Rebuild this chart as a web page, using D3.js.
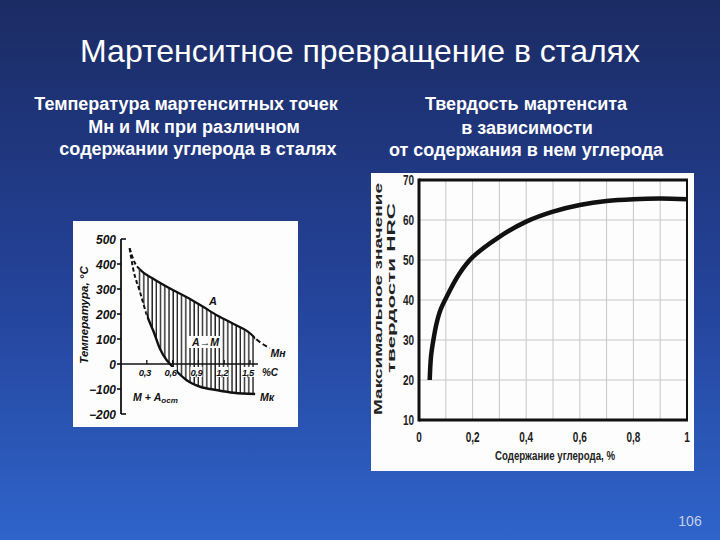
<!DOCTYPE html>
<html><head><meta charset="utf-8">
<script src="https://cdn.jsdelivr.net/npm/d3@7"></script>
<style>html,body{margin:0;padding:0;overflow:hidden;background:#1c2c66}</style>
</head><body>
<script>
// ---------- DATA ----------
const titleText = "Мартенситное превращение в сталях";
const leftSubtitle = ["Температура мартенситных точек", "Мн и Мк при различном", "содержании углерода в сталях"];
const rightSubtitle = ["Твердость мартенсита", "в зависимости", "от содержания в нем углерода"];
const pageNumber = "106";

// Left chart: martensite start (Mн) and finish (Mк) temperatures vs carbon %
const mnCarbon = [0.10, 0.16, 0.22, 0.38, 0.57, 0.76, 0.95, 1.12, 1.31, 1.50, 1.56, 1.73];
const mnTemp   = [463, 405, 378, 340, 302, 268, 230, 194, 160, 123, 103, 63];
const mkCarbon = [0.10, 0.14, 0.22, 0.30, 0.38, 0.45, 0.53, 0.57, 0.67, 0.76, 0.92, 1.11, 1.31, 1.56];
const mkTemp   = [463, 383, 289, 196, 129, 63, 16, 0, -37, -64, -91, -104, -115, -120];
const leftYTicks = [500, 400, 300, 200, 100, 0, -100, -200];
const leftYLabels = ["500", "400", "300", "200", "100", "0", "−100", "−200"];
const leftXTicks = [0.3, 0.6, 0.9, 1.2, 1.5];
const leftXLabels = ["0,3", "0,6", "0,9", "1,2", "1,5"];

// Right chart: max hardness HRC vs carbon %
const hrcCarbon = [0.04, 0.045, 0.055, 0.065, 0.08, 0.10, 0.15, 0.20, 0.30, 0.40, 0.50, 0.60, 0.70, 0.80, 0.90, 1.00];
const hrcValue  = [20, 26, 30.5, 34, 37.5, 40.4, 46.5, 50.7, 55.8, 59.6, 62.1, 63.75, 64.75, 65.2, 65.35, 65.2];
const rightXTicks = [0, 0.2, 0.4, 0.6, 0.8, 1];
const rightXLabels = ["0", "0,2", "0,4", "0,6", "0,8", "1"];
const rightYTicks = [10, 20, 30, 40, 50, 60, 70];
const rightXGrid = [0.1, 0.2, 0.3, 0.4, 0.5, 0.6, 0.7, 0.8, 0.9];
const rightYGrid = [20, 30, 40, 50, 60];

// ---------- DRAW ----------
const W = 720, H = 540;
const svg = d3.select("body").append("svg").attr("width", W).attr("height", H);
const defs = svg.append("defs");
const bg = defs.append("linearGradient").attr("id", "bg").attr("x1", 0).attr("y1", 0).attr("x2", 0).attr("y2", 1);
bg.append("stop").attr("offset", "0%").attr("stop-color", "#1b2b63");
bg.append("stop").attr("offset", "55%").attr("stop-color", "#24439a");
bg.append("stop").attr("offset", "100%").attr("stop-color", "#2f64ca");
svg.append("rect").attr("width", W).attr("height", H).attr("fill", "url(#bg)");

const F = "'Liberation Sans', Arial, sans-serif";

svg.append("text").attr("x", 360).attr("y", 62).attr("text-anchor", "middle")
  .attr("font-family", F).attr("font-size", 32).attr("fill", "#ffffff").text(titleText);

const lsx = [186, 194, 198], rsx = [526, 527, 526], lsy = [109.5, 133, 154.5], rsy = [109.5, 134, 156];
leftSubtitle.forEach((t, i) => svg.append("text").attr("x", lsx[i]).attr("y", lsy[i]).attr("text-anchor", "middle")
  .attr("font-family", F).attr("font-weight", "bold").attr("font-size", 18).attr("fill", "#fff").text(t));
rightSubtitle.forEach((t, i) => svg.append("text").attr("x", rsx[i]).attr("y", rsy[i]).attr("text-anchor", "middle")
  .attr("font-family", F).attr("font-weight", "bold").attr("font-size", 18).attr("fill", "#fff").text(t));

svg.append("text").attr("x", 690).attr("y", 526).attr("text-anchor", "middle")
  .attr("font-family", F).attr("font-size", 14).attr("fill", "#c5cfea").text(pageNumber);

// ---------- LEFT CHART ----------
svg.append("rect").attr("x", 73).attr("y", 221).attr("width", 225).attr("height", 206).attr("fill", "#fdfdfd");
const L = svg.append("g");
const lx = d3.scaleLinear().domain([0, 1.5]).range([121, 250]);
const ly = d3.scaleLinear().domain([-200, 500]).range([414, 239]);
const LF = "'Liberation Sans', Arial, sans-serif";
const ink = "#111";
const paper = "#fdfdfd";

const mnPts = mnCarbon.map((c, i) => [lx(c), ly(mnTemp[i])]);
const mkPts = mkCarbon.map((c, i) => [lx(c), ly(mkTemp[i])]);
const lline = d3.line().curve(d3.curveMonotoneX);

// hatch region (between curves)
const mnInside = mnPts.filter((p, i) => mnCarbon[i] <= 1.56);
const mkRev = mkPts.slice().reverse();
const regionPath = lline(mnInside) + "L" + d3.line().curve(d3.curveMonotoneX)(mkRev).slice(1) + "Z";
defs.append("clipPath").attr("id", "region").append("path").attr("d", regionPath);
const pat = defs.append("pattern").attr("id", "hatch").attr("patternUnits", "userSpaceOnUse")
  .attr("width", 4.2).attr("height", 10);
pat.append("line").attr("x1", 1).attr("x2", 1).attr("y1", 0).attr("y2", 10).attr("stroke", ink).attr("stroke-width", 1.3);
L.append("rect").attr("clip-path", "url(#region)")
  .attr("x", lx(0.19)).attr("width", lx(1.565) - lx(0.19)).attr("y", 230).attr("height", 190)
  .attr("fill", "url(#hatch)");

// clip zones for solid / dashed parts
function clipX(id, x0, x1) {
  defs.append("clipPath").attr("id", id).append("rect").attr("x", x0).attr("y", 200).attr("width", x1 - x0).attr("height", 240);
}
clipX("mnSolid", lx(0.22), lx(1.56));
clipX("mnDashA", 0, lx(0.22));
clipX("mnDashB", lx(1.56), 720);
clipX("mkSolid", lx(0.30), 720);
clipX("mkDash", 0, lx(0.30));

const mnD = lline(mnPts), mkD = lline(mkPts);
L.append("path").attr("d", mnD).attr("clip-path", "url(#mnSolid)").attr("fill", "none").attr("stroke", ink).attr("stroke-width", 2.2);
L.append("path").attr("d", mnD).attr("clip-path", "url(#mnDashA)").attr("fill", "none").attr("stroke", ink).attr("stroke-width", 2).attr("stroke-dasharray", "4,2.5");
L.append("path").attr("d", mnD).attr("clip-path", "url(#mnDashB)").attr("fill", "none").attr("stroke", ink).attr("stroke-width", 2).attr("stroke-dasharray", "5,3");
L.append("path").attr("d", mkD).attr("clip-path", "url(#mkSolid)").attr("fill", "none").attr("stroke", ink).attr("stroke-width", 2.4);
L.append("path").attr("d", mkD).attr("clip-path", "url(#mkDash)").attr("fill", "none").attr("stroke", ink).attr("stroke-width", 2).attr("stroke-dasharray", "4,2.5");

// axes
L.append("line").attr("x1", lx(0)).attr("x2", lx(0)).attr("y1", ly(500)).attr("y2", ly(-200)).attr("stroke", ink).attr("stroke-width", 1.8);
L.append("line").attr("x1", lx(0)).attr("x2", 258).attr("y1", ly(0)).attr("y2", ly(0)).attr("stroke", ink).attr("stroke-width", 1.6);
leftYTicks.forEach((v, i) => {
  const edge = (v === 500 || v === -200);
  L.append("line").attr("x1", lx(0)).attr("x2", lx(0) + (edge ? 5 : -4)).attr("y1", ly(v)).attr("y2", ly(v))
    .attr("stroke", ink).attr("stroke-width", 1.6);
  L.append("text").attr("x", 116).attr("y", ly(v) + 4.5).attr("text-anchor", "end")
    .attr("font-family", LF).attr("font-style", "italic").attr("font-weight", "bold").attr("font-size", 12)
    .attr("fill", ink).text(leftYLabels[i]);
});
leftXTicks.forEach((v, i) => {
  L.append("line").attr("x1", lx(v)).attr("x2", lx(v)).attr("y1", ly(0)).attr("y2", ly(0) - 4).attr("stroke", ink).attr("stroke-width", 1.3);
  L.append("rect").attr("x", lx(v) - 8).attr("y", ly(0) + 3).attr("width", 12).attr("height", 10).attr("fill", paper);
  L.append("text").attr("x", lx(v) - 2).attr("y", ly(0) + 11.5).attr("text-anchor", "middle")
    .attr("font-family", LF).attr("font-style", "italic").attr("font-weight", "bold").attr("font-size", 9.5)
    .attr("letter-spacing", -0.4).attr("fill", ink).text(leftXLabels[i]);
});
L.append("text").attr("x", 270).attr("y", ly(0) + 11.5).attr("text-anchor", "middle")
  .attr("font-family", LF).attr("font-style", "italic").attr("font-weight", "bold").attr("font-size", 10).attr("fill", ink).text("%C");
L.append("text").attr("transform", "translate(88,315) rotate(-90)").attr("text-anchor", "middle")
  .attr("font-family", LF).attr("font-style", "italic").attr("font-weight", "bold").attr("font-size", 11.5).attr("fill", ink)
  .text("Температура, °С");
const lab = (x, y, t, s) => L.append("text").attr("x", x).attr("y", y).attr("text-anchor", "middle")
  .attr("font-family", LF).attr("font-style", "italic").attr("font-weight", "bold").attr("font-size", s || 10.5).attr("fill", ink).text(t);
lab(lx(1.07), ly(235), "А", 11);
// A→M label with white backing to cut the hatch
L.append("rect").attr("x", 189).attr("y", 336).attr("width", 33).attr("height", 12).attr("fill", paper);
lab(205.5, 346, "А→М", 10.5);
lab(278, 357, "Мн", 10.5);
lab(267, 401, "Мк", 10.5);
L.append("text").attr("x", 133).attr("y", 401).attr("font-family", LF).attr("font-style", "italic").attr("font-weight", "bold")
  .attr("font-size", 10.5).attr("fill", ink).text("М + А").append("tspan").attr("font-size", 8).attr("dy", 2).text("ост");

// ---------- RIGHT CHART ----------
svg.append("rect").attr("x", 371).attr("y", 173).attr("width", 323).attr("height", 298).attr("fill", "#fdfdfd");
const R = svg.append("g");
const rx = d3.scaleLinear().domain([0, 1]).range([419, 687]);
const ry = d3.scaleLinear().domain([10, 70]).range([420, 180]);
rightXGrid.forEach(v => R.append("line").attr("x1", rx(v)).attr("x2", rx(v)).attr("y1", ry(70)).attr("y2", ry(10))
  .attr("stroke", "#c6c6c6").attr("stroke-width", 1));
rightYGrid.forEach(v => R.append("line").attr("x1", rx(0)).attr("x2", rx(1)).attr("y1", ry(v)).attr("y2", ry(v))
  .attr("stroke", "#c6c6c6").attr("stroke-width", 1));
R.append("line").attr("x1", rx(0)).attr("x2", rx(1) + 1).attr("y1", ry(70)).attr("y2", ry(70)).attr("stroke", "#111").attr("stroke-width", 3);
R.append("line").attr("x1", rx(0)).attr("x2", rx(1) + 1).attr("y1", ry(10)).attr("y2", ry(10)).attr("stroke", "#111").attr("stroke-width", 3);
R.append("line").attr("x1", rx(0)).attr("x2", rx(0)).attr("y1", ry(70) - 1.5).attr("y2", ry(10) + 1.5).attr("stroke", "#111").attr("stroke-width", 3);
R.append("line").attr("x1", rx(1)).attr("x2", rx(1)).attr("y1", ry(70)).attr("y2", ry(10)).attr("stroke", "#111").attr("stroke-width", 2);

const rline = d3.line().x((d, i) => rx(hrcCarbon[i])).y(d => ry(d)).curve(d3.curveCatmullRom.alpha(0.5));
R.append("path").attr("d", rline(hrcValue)).attr("fill", "none").attr("stroke", "#111").attr("stroke-width", 4.5).attr("stroke-linecap", "butt");

const RF = "'Liberation Sans', Arial, sans-serif";
rightYTicks.forEach(v => R.append("text").attr("transform", `translate(414,${ry(v) + 5}) scale(1,1.4)`)
  .attr("text-anchor", "end").attr("font-family", RF).attr("font-weight", "bold").attr("font-size", 10).attr("fill", "#222").text(v));
rightXTicks.forEach((v, i) => R.append("text").attr("transform", `translate(${rx(v)},${442}) scale(1,1.4)`)
  .attr("text-anchor", "middle").attr("font-family", RF).attr("font-weight", "bold").attr("font-size", 10).attr("fill", "#222").text(rightXLabels[i]));
R.append("text").attr("transform", "translate(555,460) scale(1,1.35)").attr("text-anchor", "middle")
  .attr("font-family", RF).attr("font-weight", "bold").attr("font-size", 10).attr("fill", "#222")
  .attr("textLength", 120).attr("lengthAdjust", "spacingAndGlyphs").text("Содержание углерода, %");
R.append("text").attr("transform", "translate(382,299) rotate(-90)").attr("text-anchor", "middle")
  .attr("font-family", RF).attr("font-weight", "bold").attr("font-size", 11.5).attr("fill", "#222")
  .attr("textLength", 232).attr("lengthAdjust", "spacingAndGlyphs").text("Максимальное значение");
R.append("text").attr("transform", "translate(395,288) rotate(-90)").attr("text-anchor", "middle")
  .attr("font-family", RF).attr("font-weight", "bold").attr("font-size", 11.5).attr("fill", "#222")
  .attr("textLength", 170).attr("lengthAdjust", "spacingAndGlyphs").text("твердости HRC");
</script>
</body></html>
